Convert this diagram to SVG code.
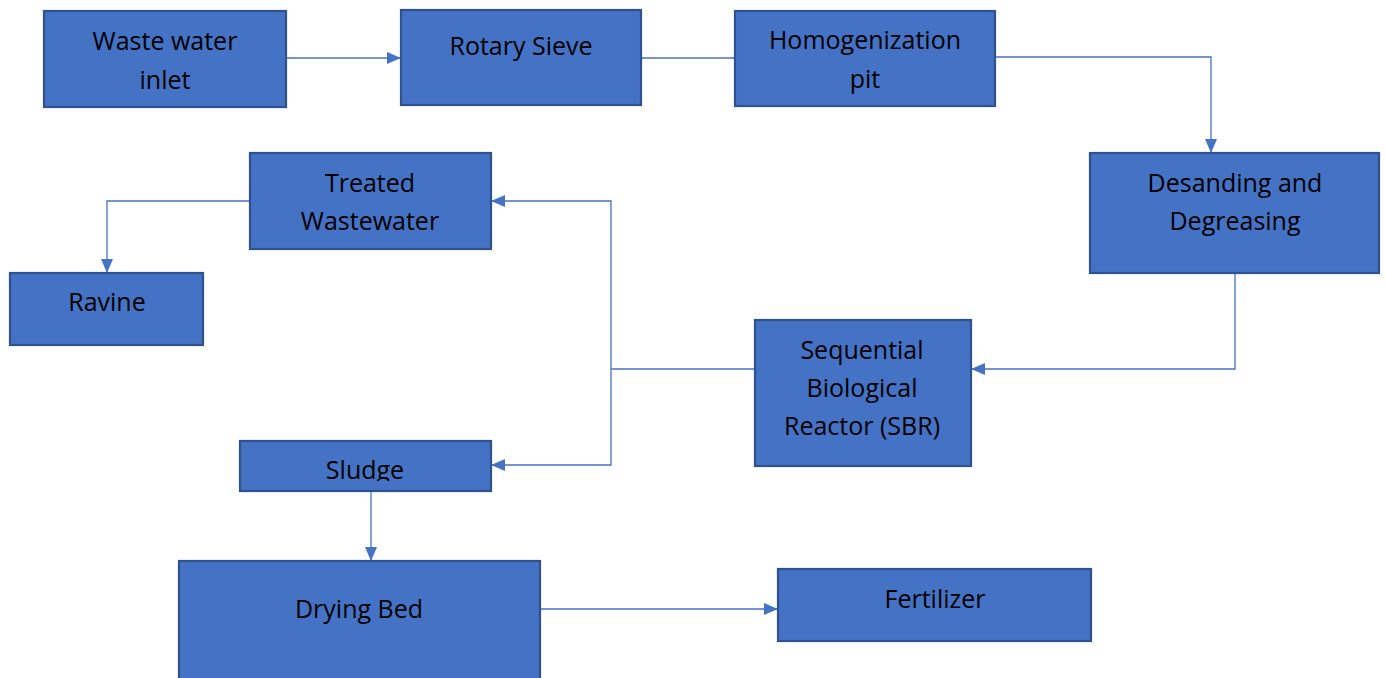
<svg xmlns="http://www.w3.org/2000/svg" width="1386" height="678" viewBox="0 0 1386 678">
<defs>
<style>
.box{fill:#4472C4;stroke:#2F528F;stroke-width:2.2}
.lbl{font-family:"Open Sans","Noto Sans",sans-serif;font-size:25px;fill:#000;text-anchor:middle}
.con{fill:none;stroke:#4472C4;stroke-width:1.3}
</style>
<marker id="ah" viewBox="0 0 14 12" refX="14" refY="6" markerWidth="14" markerHeight="12" markerUnits="userSpaceOnUse" orient="auto">
<path d="M0,0 L14,6 L0,12 Z" fill="#4472C4"/>
</marker>
<clipPath id="sclip"><rect x="240" y="441" width="252" height="40"/></clipPath>
</defs>
<rect width="1386" height="678" fill="#fff"/>
<g id="connectors">
<path class="con" d="M286,58 H401" marker-end="url(#ah)"/>
<path class="con" d="M641,58 H735"/>
<path class="con" d="M995,57 H1211 V153" marker-end="url(#ah)"/>
<path class="con" d="M1235,273 V369 H971" marker-end="url(#ah)"/>
<path class="con" d="M755,369 H611"/>
<path class="con" d="M611,369 V201 H491" marker-end="url(#ah)"/>
<path class="con" d="M611,369 V465 H491" marker-end="url(#ah)"/>
<path class="con" d="M250,201 H107 V273" marker-end="url(#ah)"/>
<path class="con" d="M371,492 V561" marker-end="url(#ah)"/>
<path class="con" d="M540,609 H778" marker-end="url(#ah)"/>
</g>
<g id="waste-water-inlet"><rect class="box" x="44" y="11" width="242" height="96"/><text class="lbl" x="165" y="50">Waste water</text><text class="lbl" x="165" y="89">inlet</text></g>
<g id="rotary-sieve"><rect class="box" x="401" y="10" width="240" height="95"/><text class="lbl" x="521" y="55">Rotary Sieve</text></g>
<g id="homogenization-pit"><rect class="box" x="735" y="11" width="260" height="95"/><text class="lbl" x="865" y="49">Homogenization</text><text class="lbl" x="865" y="88">pit</text></g>
<g id="desanding"><rect class="box" x="1090" y="153" width="289" height="120"/><text class="lbl" x="1235" y="192">Desanding and</text><text class="lbl" x="1235" y="230">Degreasing</text></g>
<g id="treated-wastewater"><rect class="box" x="250" y="153" width="241" height="96"/><text class="lbl" x="370" y="192">Treated</text><text class="lbl" x="370" y="230">Wastewater</text></g>
<g id="ravine"><rect class="box" x="10" y="273" width="193" height="72"/><text class="lbl" x="107" y="311">Ravine</text></g>
<g id="sbr"><rect class="box" x="755" y="320" width="216" height="146"/><text class="lbl" x="862" y="359">Sequential</text><text class="lbl" x="862" y="397">Biological</text><text class="lbl" x="862" y="435">Reactor (SBR)</text></g>
<g id="sludge"><rect class="box" x="240" y="441" width="251" height="50"/><text class="lbl" x="365" y="479" clip-path="url(#sclip)">Sludge</text></g>
<g id="drying-bed"><rect class="box" x="179" y="561" width="361" height="125"/><text class="lbl" x="359" y="618">Drying Bed</text></g>
<g id="fertilizer"><rect class="box" x="778" y="569" width="313" height="72"/><text class="lbl" x="935" y="608">Fertilizer</text></g>
</svg>
